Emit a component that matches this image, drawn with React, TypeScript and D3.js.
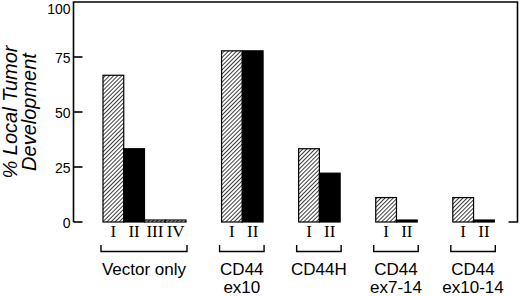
import React from "react";
import * as d3 from "d3";

const groupLabels: string[][] = [["Vector only"], ["CD44", "ex10"], ["CD44H"], ["CD44", "ex7-14"], ["CD44", "ex10-14"]];
const barNumerals: string[][] = [["I", "II", "III", "IV"], ["I", "II"], ["I", "II"], ["I", "II"], ["I", "II"]];
const barValues: number[][] = [[66.7, 33.3, 0.9, 0.9], [77.8, 77.8], [33.3, 22.2], [11.1, 0.9], [11.1, 0.9]];
const barFills: string[][] = [["hatch", "black", "hatch", "hatch"], ["hatch", "black"], ["hatch", "black"], ["hatch", "black"], ["hatch", "black"]];
const yTicks: number[] = [0, 25, 50, 75, 100];
const yTitle: string[] = ["% Local Tumor", "Development"];

const W = 520, H = 296;
const GAP_UNITS = 1.715;

export default function App() {
  const y = d3.scaleLinear().domain([0, 100]).range([222, 2]);
  const starts: number[] = [];
  let u = 0;
  barValues.forEach((g, i) => {
    starts.push(u);
    u += g.length + (i < barValues.length - 1 ? GAP_UNITS : 0);
  });
  const x = d3.scaleLinear().domain([0, u]).range([103, 494.3]);
  const bw = x(1) - x(0);
  const axX = 73.5, rightX = 517.5, topY = 2, baseY = y(0);
  const sans = "'Liberation Sans', Arial, Helvetica, sans-serif";
  const serif = "'Liberation Serif', 'Times New Roman', serif";

  return (
    <svg width={W} height={H} style={{ position: "absolute", left: 0, top: 0, background: "#fff" }}>
      <defs>
        <pattern id="hatch" patternUnits="userSpaceOnUse" width={2.9} height={2.9} patternTransform="rotate(45)">
          <rect width={2.9} height={2.9} fill="#fff" />
          <line x1={0} y1={0} x2={0} y2={2.9} stroke="#000" strokeWidth={1.5} />
        </pattern>
      </defs>
      <path
        d={`M${axX},${baseY} L${axX},${topY} L${rightX},${topY} L${rightX},${baseY} L${rightX - 9},${baseY}`}
        fill="none" stroke="#000" strokeWidth={1.6}
      />
      {yTicks.filter(t => t !== 100).map(t => (
        <line key={t} x1={axX} x2={axX + 9} y1={y(t)} y2={y(t)} stroke="#000" strokeWidth={1.6} />
      ))}
      {yTicks.map(t => (
        <text key={t} x={70.5} y={t === 100 ? 13.5 : y(t) + 6} textAnchor="end" fontFamily={sans} fontSize={14}>{t}</text>
      ))}
      <g transform={`translate(17,112) rotate(-90)`}>
        <text x={0} y={0} textAnchor="middle" fontFamily={sans} fontStyle="italic" fontSize={20}>{yTitle[0]}</text>
        <text x={0} y={19} textAnchor="middle" fontFamily={sans} fontStyle="italic" fontSize={20}>{yTitle[1]}</text>
      </g>
      {barValues.map((g, gi) => g.map((v, bi) => {
        const x0 = x(starts[gi] + bi);
        const fill = barFills[gi][bi] === "hatch" ? "url(#hatch)" : "#000";
        return (
          <rect key={`${gi}-${bi}`} x={x0} y={y(v)} width={bw} height={baseY - y(v)} fill={fill} stroke="#000" strokeWidth={1.2} />
        );
      }))}
      {barNumerals.map((g, gi) => g.map((n, bi) => (
        <text key={`n${gi}-${bi}`} x={x(starts[gi] + bi + 0.5)} y={237} textAnchor="middle" fontFamily={serif} fontSize={17}>{n}</text>
      )))}
      {groupLabels.map((lines, gi) => {
        const x0 = x(starts[gi]) - 2;
        const x1 = x(starts[gi] + barValues[gi].length) + 1;
        const cx = (x0 + x1) / 2;
        return (
          <g key={`g${gi}`}>
            <path d={`M${x0},245 L${x0},251.5 L${x1},251.5 L${x1},245`} fill="none" stroke="#000" strokeWidth={1.4} />
            {lines.map((l, li) => (
              <text key={li} x={cx} y={275 + li * 18} textAnchor="middle" fontFamily={sans} fontSize={17}>{l}</text>
            ))}
          </g>
        );
      })}
    </svg>
  );
}
